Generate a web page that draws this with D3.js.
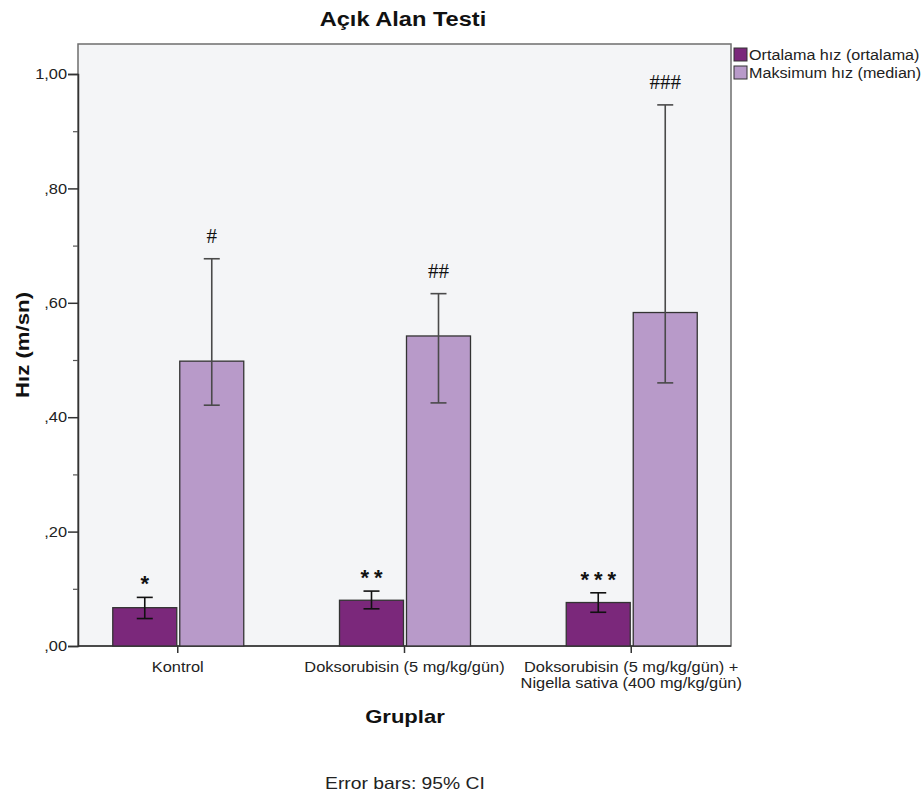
<!DOCTYPE html>
<html><head><meta charset="utf-8">
<script src="https://cdn.jsdelivr.net/npm/d3@7"></script>
<style>body{margin:0;background:#fff;} text{font-family:"Liberation Sans",Arial,sans-serif;}</style>
</head><body>
<script>
const categories = ["Kontrol", "Doksorubisin (5 mg/kg/gün)", "Doksorubisin (5 mg/kg/gün) +\nNigella sativa (400 mg/kg/gün)"];
const seriesNames = ["Ortalama hız (ortalama)", "Maksimum hız (median)"];
const meanVals = [0.067, 0.080, 0.076];
const meanLo = [0.048, 0.065, 0.059];
const meanHi = [0.085, 0.096, 0.093];
const maxVals = [0.498, 0.542, 0.583];
const maxLo = [0.421, 0.425, 0.460];
const maxHi = [0.677, 0.616, 0.946];
const meanMarks = ["*", "**", "***"];
const maxMarks = ["#", "##", "###"];
const yTicks = [0, 0.2, 0.4, 0.6, 0.8, 1.0];
const yMinor = [0.1, 0.3, 0.5, 0.7, 0.9];
const colors = ["#7B287B", "#B89AC9"];

const W = 922, H = 796;
const L = 78, R = 731, T = 44, B = 646;
const K = 1.17; // horizontal widening of glyphs seen in the reference
const svg = d3.select("body").append("svg").attr("width", W).attr("height", H);

function stretch(sel, k) {
  sel.each(function () {
    const l = this.getComputedTextLength();
    d3.select(this).attr("textLength", l * k).attr("lengthAdjust", "spacingAndGlyphs");
  });
  return sel;
}

const y = d3.scaleLinear().domain([0, 1]).range([B, 74]);
const x = d3.scalePoint().domain(categories).range([L, R]).padding(0.44);
const bw = 64;

svg.append("rect").attr("x", L).attr("y", T).attr("width", R - L).attr("height", B - T)
  .attr("fill", "#F4F5F7").attr("stroke", "#6E6E6E").attr("stroke-width", 1.5);

const fmt = v => (v === 0 ? ",00" : (v >= 1 ? d3.format(".2f")(v).replace(".", ",") : "," + d3.format(".2f")(v).split(".")[1]));

// y axis
const yAxis = d3.axisLeft(y).tickValues(yTicks).tickSize(10).tickFormat(fmt);
const ga = svg.append("g").attr("transform", `translate(${L},0)`).call(yAxis);
ga.select(".domain").attr("stroke", "#333").attr("stroke-width", 1.5);
ga.selectAll(".tick line").attr("stroke", "#333").attr("stroke-width", 1.5);
ga.selectAll(".tick text").attr("font-size", 14).attr("fill", "#222").attr("x", -11).attr("dy", "0.34em");
stretch(ga.selectAll(".tick text"), K);
const gm = svg.append("g").attr("transform", `translate(${L},0)`).call(d3.axisLeft(y).tickValues(yMinor).tickSize(5).tickFormat(""));
gm.select(".domain").remove();
gm.selectAll(".tick line").attr("stroke", "#555").attr("stroke-width", 1.2);

// bottom axis
svg.append("line").attr("x1", L).attr("x2", R).attr("y1", B).attr("y2", B).attr("stroke", "#333").attr("stroke-width", 1.5);
categories.forEach(c => {
  svg.append("line").attr("x1", x(c)).attr("x2", x(c)).attr("y1", B).attr("y2", B + 7).attr("stroke", "#333").attr("stroke-width", 1.5);
  const lines = c.split("\n");
  lines.forEach((ln, i) => {
    const t = svg.append("text").attr("x", x(c)).attr("y", B + 26 + i * 16).attr("text-anchor", "middle")
      .attr("font-size", 14).attr("fill", "#222").text(ln);
    stretch(t, K);
  });
});

// bars
const series = [
  {vals: meanVals, lo: meanLo, hi: meanHi, marks: meanMarks, off: -bw - 1, color: colors[0]},
  {vals: maxVals, lo: maxLo, hi: maxHi, marks: maxMarks, off: 2, color: colors[1]}
];
series.forEach((s) => {
  categories.forEach((c, i) => {
    const x0 = x(c) + s.off;
    svg.append("rect").attr("x", x0).attr("y", y(s.vals[i])).attr("width", bw).attr("height", y(0) - y(s.vals[i]))
      .attr("fill", s.color).attr("stroke", "#333").attr("stroke-width", 1.3);
  });
});
series.forEach((s, si) => {
  categories.forEach((c, i) => {
    const cx = x(c) + s.off + bw / 2;
    const ec = si === 0 ? "#111" : "#4a4a4a";
    svg.append("line").attr("x1", cx).attr("x2", cx).attr("y1", y(s.hi[i])).attr("y2", y(s.lo[i])).attr("stroke", ec).attr("stroke-width", 1.6);
    [s.hi[i], s.lo[i]].forEach(v => {
      svg.append("line").attr("x1", cx - 8).attr("x2", cx + 8).attr("y1", y(v)).attr("y2", y(v)).attr("stroke", ec).attr("stroke-width", 1.6);
    });
    if (si === 0) {
      svg.append("text").attr("x", cx).attr("dx", 2.5).attr("y", y(s.hi[i]) - 6).attr("text-anchor", "middle")
        .attr("font-size", 22).attr("font-weight", "bold").attr("letter-spacing", 5).attr("fill", "#111").text(s.marks[i]);
    } else {
      svg.append("text").attr("x", cx).attr("y", y(s.hi[i]) - 16).attr("text-anchor", "middle")
        .style("font-family", "'Liberation Serif','Times New Roman',serif").attr("font-size", 21).attr("fill", "#111").text(s.marks[i]);
    }
  });
});

// title
stretch(svg.append("text").attr("x", 403).attr("y", 26).attr("text-anchor", "middle").attr("font-size", 20).attr("font-weight", "bold").attr("fill", "#111").text("Açık Alan Testi"), 1.18);
// y title
stretch(svg.append("text").attr("transform", "translate(29,345) rotate(-90)").attr("text-anchor", "middle").attr("font-size", 18.5).attr("font-weight", "bold").attr("fill", "#111").text("Hız (m/sn)"), 1.2);
// x title
stretch(svg.append("text").attr("x", 405).attr("y", 723).attr("text-anchor", "middle").attr("font-size", 18.5).attr("font-weight", "bold").attr("fill", "#111").text("Gruplar"), 1.19);
// footnote
stretch(svg.append("text").attr("x", 405).attr("y", 789).attr("text-anchor", "middle").attr("font-size", 16.5).attr("fill", "#222").text("Error bars: 95% CI"), K);

// legend
seriesNames.forEach((n, i) => {
  svg.append("rect").attr("x", 734).attr("y", 48 + i * 18).attr("width", 13).attr("height", 13).attr("fill", colors[i]).attr("stroke", "#333").attr("stroke-width", 1);
  stretch(svg.append("text").attr("x", 749).attr("y", 60 + i * 18).attr("font-size", 13.8).attr("fill", "#222").text(n), K);
});
</script>
</body></html>
